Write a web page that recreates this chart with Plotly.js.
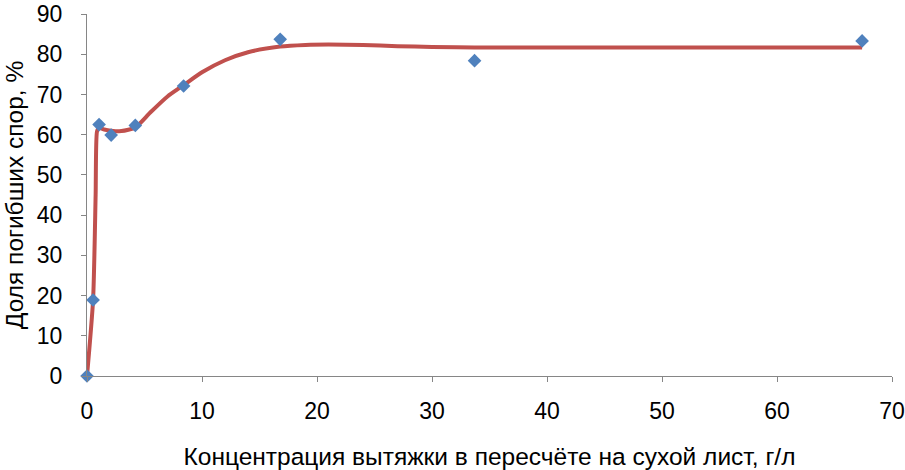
<!DOCTYPE html>
<html>
<head>
<meta charset="utf-8">
<script src="https://cdn.plot.ly/plotly-3.0.1.min.js"></script>
<style>html,body{margin:0;padding:0;background:#fff;}#chart{width:905px;height:470px;}</style>
</head>
<body>
<div id="chart"></div>
<script>
// Measured points
var concX = [0, 0.53, 1.05, 2.1, 4.2, 8.4, 16.8, 33.7, 67.4];
var deadY = [0, 18.9, 62.5, 59.9, 62.3, 72.1, 83.7, 78.4, 83.3];
// Smoothed curve
var curveX = [0, 0.53, 0.75, 0.87, 1.05, 1.5, 2.1, 3.0, 4.2, 5.5, 7, 8.4, 10, 12, 14, 16.8, 19, 21, 24, 27, 30, 33.7, 67.4];
var curveY = [0, 19, 45, 60.8, 61.7, 61.3, 61.0, 60.9, 61.8, 65.5, 69.5, 72.3, 75.5, 78.5, 80.5, 81.9, 82.3, 82.4, 82.3, 82.0, 81.8, 81.7, 81.7];
var xTicks = [0, 10, 20, 30, 40, 50, 60, 70];
var yTicks = [0, 10, 20, 30, 40, 50, 60, 70, 80, 90];
var xTitle = 'Концентрация вытяжки в пересчёте на сухой лист, г/л';
var yTitle = 'Доля погибших спор, %';

var font = 'Liberation Sans, Arial, sans-serif';
var traces = [
  {x: curveX, y: curveY, mode: 'lines', type: 'scatter', cliponaxis: false,
   line: {color: '#C0504D', width: 4, shape: 'spline', smoothing: 0.6}, hoverinfo: 'skip'},
  {x: concX, y: deadY, mode: 'markers', type: 'scatter', cliponaxis: false,
   marker: {symbol: 'diamond', color: '#4F81BD', size: 10.5, line: {width: 0}}}
];
var axisCommon = {
  showgrid: false, zeroline: false, showline: true, linecolor: '#868686', linewidth: 1,
  ticks: 'outside', ticklen: 5, tickcolor: '#868686', tickwidth: 1,
  ticklabeloverflow: 'allow',
  tickfont: {family: font, size: 23, color: '#000'}
};
var layout = {
  width: 905, height: 470,
  margin: {l: 87, r: 13, t: 14, b: 94},
  paper_bgcolor: '#fff', plot_bgcolor: '#fff',
  showlegend: false,
  xaxis: Object.assign({}, axisCommon, {range: [0, 70], tickmode: 'array', tickvals: xTicks, ticklabelstandoff: 9,
    title: {text: xTitle, font: {family: font, size: 24.5, color: '#000'}, standoff: 26}}),
  yaxis: Object.assign({}, axisCommon, {range: [0, 90], tickmode: 'array', tickvals: yTicks, ticklabelstandoff: 14,
    title: {text: yTitle, font: {family: font, size: 24.5, color: '#000'}, standoff: 6}})
};
Plotly.newPlot('chart', traces, layout, {displayModeBar: false, staticPlot: true});
</script>
</body>
</html>
